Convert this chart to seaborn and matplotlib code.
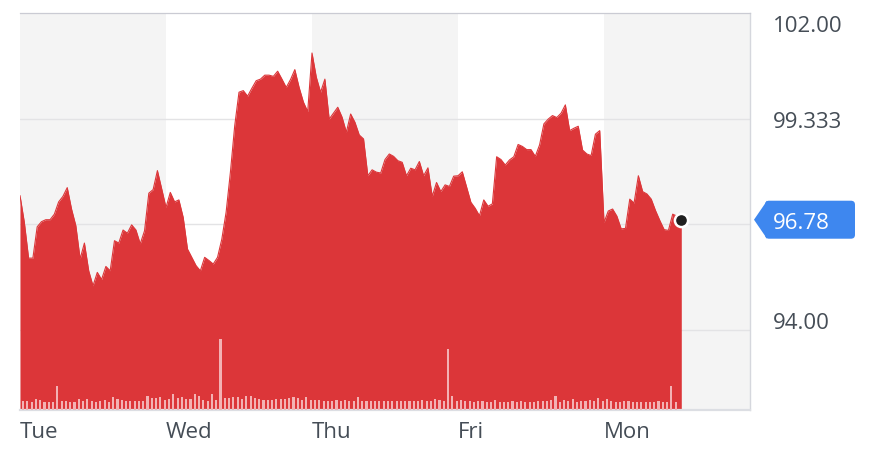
import numpy as np
import pandas as pd
import matplotlib
matplotlib.use("Agg")
import matplotlib.pyplot as plt
import seaborn as sns
from matplotlib.patches import FancyBboxPatch, Polygon

# ---------------- data ----------------
days = ["Tue", "Wed", "Thu", "Fri", "Mon"]
points_per_day = 34

prices = [
    # Tue
    97.39, 96.72, 95.81, 95.81, 96.60, 96.73, 96.78, 96.78, 96.92, 97.23,
    97.37, 97.59, 97.05, 96.63, 95.79, 96.19, 95.49, 95.11, 95.45, 95.27,
    95.60, 95.49, 96.25, 96.19, 96.52, 96.44, 96.65, 96.52, 96.17, 96.50,
    97.45, 97.54, 98.02, 97.56,
    # Wed
    97.09, 97.47, 97.23, 97.28, 96.84, 96.04, 95.83, 95.62, 95.49, 95.83,
    95.75, 95.66, 95.83, 96.29, 96.97, 97.98, 99.15, 100.00, 100.04, 99.90,
    100.10, 100.29, 100.33, 100.43, 100.43, 100.40, 100.53, 100.33, 100.12, 100.32,
    100.57, 100.12, 99.75, 99.51,
    # Thu
    100.99, 100.38, 100.00, 100.33, 99.32, 99.47, 99.62, 99.37, 98.99, 99.45,
    99.24, 98.92, 98.82, 97.89, 98.04, 97.98, 97.96, 98.30, 98.44, 98.38,
    98.27, 98.23, 97.89, 98.08, 98.04, 98.25, 97.89, 98.09, 97.37, 97.72,
    97.49, 97.66, 97.62, 97.88,
    # Fri
    97.89, 97.99, 97.61, 97.22, 97.07, 96.88, 97.28, 97.12, 97.18, 98.37,
    98.30, 98.16, 98.29, 98.37, 98.68, 98.63, 98.55, 98.55, 98.38, 98.67,
    99.20, 99.32, 99.41, 99.36, 99.47, 99.68, 99.03, 99.09, 99.14, 98.54,
    98.44, 98.40, 98.94, 99.03,
    # Mon
    96.71, 97.00, 97.05, 96.87, 96.55, 96.56, 97.30, 97.20, 97.89, 97.49,
    97.43, 97.30, 97.01, 96.76, 96.53, 96.51, 96.92, 96.87, 96.78,
]

volumes = [
    8.7, 8.7, 8.3, 11, 10, 8.3, 8.3, 8.3, 24.3, 8.7, 8.7, 8.3, 8.3, 11, 8.7, 11,
    9, 8.3, 9, 10, 8.3, 13, 11, 9.7, 9, 8.7, 8.7, 9.3, 9, 13.7, 12, 12, 12.7, 10,
    11, 16,
    12.3, 13, 10.7, 11.3, 16.3, 14, 10.3, 9.3, 16, 10.3, 71.3, 12.3, 11.7, 13,
    13.3, 11.3, 14, 13.7, 12.3, 10.7, 10.3, 10.3, 9.7, 11, 10.7, 11.3, 12.3, 13.3,
    12.3, 10.3, 13, 10.3, 9.7, 9.7, 8.7, 9.3, 9, 9.7, 8.7, 9.7, 9, 8.7, 13, 9, 9,
    9, 9, 8.7, 9, 9, 8.7, 9, 9.3, 9.3, 9.3, 9.3, 9.3, 10, 9.3, 9.3, 11, 9.7, 9,
    61.3,
    14.3, 9, 9.7, 8.7, 8.7, 8.3, 8.7, 8.7, 8, 8.3, 10, 8.3, 8, 7.7, 8.7, 8.3, 9,
    8.3, 8.3, 8.3, 9, 8.7, 8.7, 10, 14, 8.3, 10, 9, 11, 8.3, 9.3, 9.3, 10, 9, 12,
    8.7, 11, 9, 8.3, 8.3, 8.7, 8.7, 7.7, 8, 8, 8, 8, 8, 8.7, 8.3, 8.3, 23.7, 8,
]

grid_values = [94.0, 96.667, 99.333, 102.0]
axis_labels = {102.0: "102.00", 99.333: "99.333", 94.0: "94.00"}
last_price = 96.78

# ---------------- style ----------------
RED = "#dc3639"
TEXT = "#454d56"
BAND = "#f4f4f4"
BLUE = "#3e87ef"

sns.set_theme(style="white")
plt.rcParams["font.family"] = ["Open Sans", "DejaVu Sans"]

W, H = 882, 464
fig = plt.figure(figsize=(W / 100, H / 100), dpi=100)
ax_left, ax_right, ax_top, ax_bottom = 20, 750, 14, 411
ax = fig.add_axes([ax_left / W, 1 - ax_bottom / H,
                   (ax_right - ax_left) / W, (ax_bottom - ax_top) / H])

n_days = len(days)
x_max = n_days * points_per_day
y_top = 102.0
px_per_unit = 39.6
y_bottom = y_top - (ax_bottom - ax_top) / px_per_unit
ax.set_xlim(0, x_max)
ax.set_ylim(y_bottom, y_top)

# alternating day bands
for d in range(0, n_days, 2):
    ax.axvspan(d * points_per_day, (d + 1) * points_per_day, color=BAND, lw=0, zorder=0)

# gridlines
for g in grid_values[:-1]:
    ax.axhline(g, color="#e3e3e5", lw=1.0, zorder=1)

# price area
df = pd.DataFrame({"t": np.arange(len(prices)), "price": prices})
ax.fill_between(df["t"], df["price"], y_bottom, color=RED, lw=0, zorder=2)
sns.lineplot(data=df, x="t", y="price", color=RED, lw=0.8, ax=ax, zorder=3)
ax.set_xlabel("")
ax.set_ylabel("")

# volume bars on twin axis
ax2 = ax.twinx()
vdf = pd.DataFrame({"t": np.arange(len(volumes)) + 0.7, "vol": volumes})
ax2.bar(vdf["t"], vdf["vol"], width=0.5, color="#f3b2b4", lw=0, zorder=3)
ax2.set_ylim(0, ax_bottom - ax_top)
ax2.set_xlim(0, x_max)
ax2.set_yticks([])
ax2.set_ylabel("")
for s in ax2.spines.values():
    s.set_visible(False)

# last-price dot
ax2.set_zorder(ax.get_zorder() + 1)
ax2.patch.set_visible(False)
ax_dot_y = (last_price - y_bottom) * px_per_unit
ax2.scatter([len(prices) - 1], [ax_dot_y], s=90, color="#1f1f1f",
            edgecolor="white", linewidth=1.8, zorder=6, clip_on=False)

# spines
ax.set_xticks([])
ax.set_yticks([])
ax.spines["left"].set_visible(False)
ax.spines["top"].set_color("#cacbd3")
ax.spines["top"].set_linewidth(0.9)
ax.spines["right"].set_color("#d5d7dd")
ax.spines["right"].set_linewidth(1.0)
ax.spines["bottom"].set_color("#dcdee3")
ax.spines["bottom"].set_linewidth(1.6)
for s in ["top", "right", "bottom"]:
    ax.spines[s].set_zorder(4)

# day labels
base_off = -(438 - ax_bottom) / (ax_bottom - ax_top)
for d, name in enumerate(days):
    ax.text(d * points_per_day, base_off, name, transform=ax.get_xaxis_transform(),
            ha="left", va="baseline", fontsize=16, color=TEXT)

# right-side axis labels (offsets in pixels from the gridline)
label_offsets = {102.0: -18.3, 99.333: -8.0, 94.0: 1.8}
x_lab = 1 + (773 - ax_right) / (ax_right - ax_left)
for v, txt in axis_labels.items():
    ax.annotate(txt, xy=(x_lab, v), xycoords=ax.get_yaxis_transform(),
                xytext=(0, label_offsets[v]), textcoords="offset pixels",
                ha="left", va="baseline", fontsize=16, color=TEXT, annotation_clip=False)

# last price badge (figure-level, above the axes)
fig.canvas.draw()
yc = ax.transData.transform((0, last_price))[1]
x_tip = 754
x_box0, x_box1 = 765, 855
hh = 19
box = FancyBboxPatch((x_box0, yc - hh), x_box1 - x_box0, 2 * hh,
                     boxstyle="round,pad=0,rounding_size=4", transform=None,
                     facecolor=BLUE, edgecolor="none", zorder=10)
tri = Polygon([(x_tip, yc), (x_box0 + 2, yc + hh), (x_box0 + 2, yc - hh)], closed=True,
              transform=None, facecolor=BLUE, edgecolor="none", zorder=10)
fig.patches.extend([box, tri])
fig.text(773 / W, (yc - 7.8) / H, f"{last_price:.2f}", ha="left", va="baseline",
         fontsize=16, color="white", zorder=12)

fig.savefig("out.png", dpi=100)
